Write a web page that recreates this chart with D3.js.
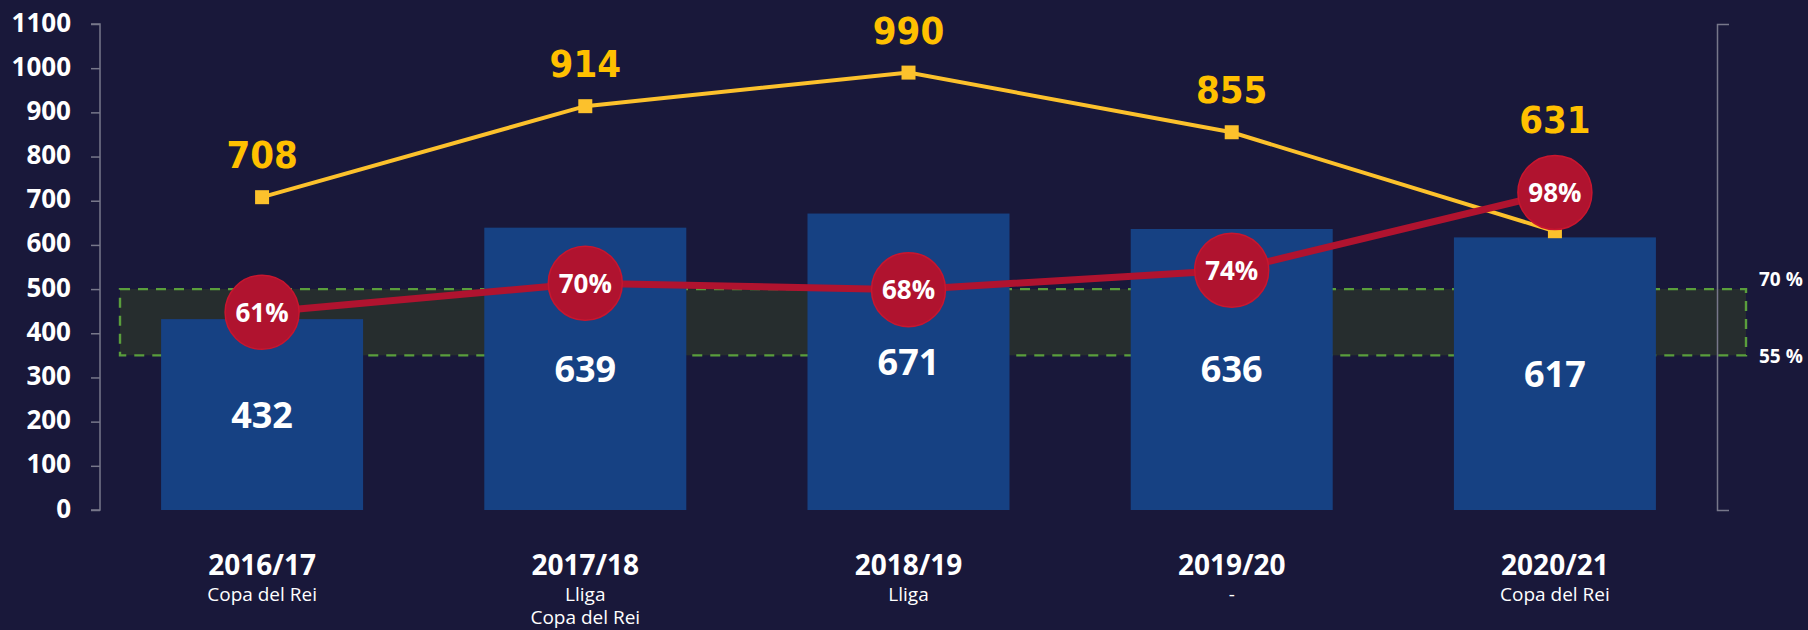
<!DOCTYPE html>
<html>
<head>
<meta charset="utf-8">
<script src="https://cdn.jsdelivr.net/npm/d3@7"></script>
<style>
  html, body { margin: 0; padding: 0; background: #19183a; }
  svg { display: block; }
</style>
</head>
<body>
<svg id="chart" width="1808" height="630"></svg>
<script>
// ---- data ----
const seasons = ["2016/17", "2017/18", "2018/19", "2019/20", "2020/21"];
const titles = [["Copa del Rei"], ["Lliga", "Copa del Rei"], ["Lliga"], ["-"], ["Copa del Rei"]];
const barValues = [432, 639, 671, 636, 617];
const lineValues = [708, 914, 990, 855, 631];
const pctValues = [61, 70, 68, 74, 98];
const yTicks = [0, 100, 200, 300, 400, 500, 600, 700, 800, 900, 1000, 1100];
const bandRange = [350, 500];
const bandLabels = ["55 %", "70 %"];

// ---- layout ----
const W = 1808, H = 630;
const mLeft = 100, mRight = 1717, mTop = 24, mBottom = 510;
const svg = d3.select("#chart");
svg.append("rect").attr("width", W).attr("height", H).attr("fill", "#19183a");

const x = d3.scaleBand().domain(seasons).range([mLeft, mRight]).paddingInner(0.375).paddingOuter(0.189);
const y = d3.scaleLinear().domain([0, 1100]).range([mBottom, mTop]);
const yPct = d3.scaleLinear().domain([0, 150]).range([mBottom, mTop]);
const cx = d => x(d) + x.bandwidth() / 2;

const FONT = "'Open Sans', 'Noto Sans', sans-serif";
const HEAVY = "'DejaVu Sans Condensed', 'DejaVu Sans', sans-serif";

// target band
svg.append("rect")
  .attr("x", 120).attr("width", 1746 - 120)
  .attr("y", y(bandRange[1])).attr("height", y(bandRange[0]) - y(bandRange[1]))
  .attr("fill", "#262d2e")
  .attr("stroke", "#5a9e3c").attr("stroke-width", 2.4).attr("stroke-dasharray", "10,8");

svg.selectAll(".bandlabel").data(bandLabels).join("text")
  .attr("x", 1759)
  .attr("y", (d, i) => i === 0 ? y(bandRange[0]) + 8 : y(bandRange[1]) - 3)
  .attr("fill", "#ffffff").attr("font-family", FONT).attr("font-weight", 700)
  .attr("font-size", 19).text(d => d);

// left axis
const yAxis = svg.append("g").attr("transform", `translate(${mLeft},0)`)
  .call(d3.axisLeft(y).tickValues(yTicks).tickFormat(d3.format("d")).tickSize(9).tickPadding(20));
yAxis.select(".domain").attr("stroke", "#77778a").attr("stroke-width", 1.5).attr("d", `M-9,${mTop}H0V${mBottom}H-9`);
yAxis.selectAll(".tick line").attr("stroke", "#77778a").attr("stroke-width", 1.5);
yAxis.selectAll(".tick text").attr("fill", "#ffffff").attr("font-family", FONT)
  .attr("font-weight", 700).attr("font-size", 26).attr("dy", "0.27em");

// right axis (bracket)
const yRight = svg.append("g").attr("transform", `translate(${mRight},0)`)
  .call(d3.axisRight(yPct).tickValues([]).tickSizeOuter(12));
yRight.select(".domain").attr("stroke", "#77778a").attr("stroke-width", 1.5);

// bars
svg.selectAll(".bar").data(seasons).join("rect")
  .attr("x", d => x(d)).attr("width", x.bandwidth())
  .attr("y", (d, i) => y(barValues[i])).attr("height", (d, i) => mBottom - y(barValues[i]))
  .attr("fill", "#164183");

svg.selectAll(".barlabel").data(seasons).join("text")
  .attr("x", d => cx(d))
  .attr("y", (d, i) => (y(barValues[i]) + mBottom) / 2)
  .attr("dy", "0.36em").attr("text-anchor", "middle")
  .attr("fill", "#ffffff").attr("font-family", FONT).attr("font-weight", 700).attr("font-size", 36)
  .text((d, i) => barValues[i]);

// yellow line
const lineData = seasons.map((s, i) => [cx(s), y(lineValues[i])]);
svg.append("path").attr("d", d3.line()(lineData))
  .attr("fill", "none").attr("stroke", "#fcc12c").attr("stroke-width", 4);
svg.selectAll(".sq").data(lineData).join("rect")
  .attr("x", d => d[0] - 7).attr("y", d => d[1] - 7).attr("width", 14).attr("height", 14)
  .attr("fill", "#fcc12c");

// red line
const R = 37;
const pctData = seasons.map((s, i) => [cx(s), yPct(pctValues[i])]);
svg.append("path").attr("d", d3.line()(pctData))
  .attr("fill", "none").attr("stroke", "#b0132f").attr("stroke-width", 7);
svg.selectAll(".circ").data(pctData).join("circle")
  .attr("cx", d => d[0]).attr("cy", d => d[1]).attr("r", R)
  .attr("fill", "#b0132f").attr("stroke", "#c8162f").attr("stroke-width", 1.5);
svg.selectAll(".pctlabel").data(pctData).join("text")
  .attr("x", d => d[0]).attr("y", d => d[1]).attr("dy", "0.36em")
  .attr("text-anchor", "middle").attr("fill", "#ffffff")
  .attr("font-family", FONT).attr("font-weight", 700).attr("font-size", 26)
  .text((d, i) => pctValues[i] + "%");

// yellow labels (above marker, or above circle if it sits higher)
svg.selectAll(".ylabel").data(seasons).join("text")
  .attr("x", d => cx(d))
  .attr("y", (d, i) => Math.min(lineData[i][1] - 29, pctData[i][1] - R - 22))
  .attr("text-anchor", "middle").attr("fill", "#ffc000")
  .attr("font-family", HEAVY).attr("font-weight", 700).attr("font-size", 38)
  .text((d, i) => lineValues[i]);

// category labels
const cat = svg.selectAll(".cat").data(seasons).join("g")
  .attr("transform", d => `translate(${cx(d)},0)`);
cat.append("text").attr("y", 575).attr("text-anchor", "middle")
  .attr("fill", "#ffffff").attr("font-family", FONT).attr("font-weight", 700).attr("font-size", 28)
  .text(d => d);
cat.each(function (d, i) {
  d3.select(this).selectAll(".sub").data(titles[i]).join("text")
    .attr("y", (t, j) => 601 + j * 23).attr("text-anchor", "middle")
    .attr("fill", "#ffffff").attr("font-family", FONT).attr("font-weight", 400).attr("font-size", 19)
    .text(t => t);
});
</script>
</body>
</html>
